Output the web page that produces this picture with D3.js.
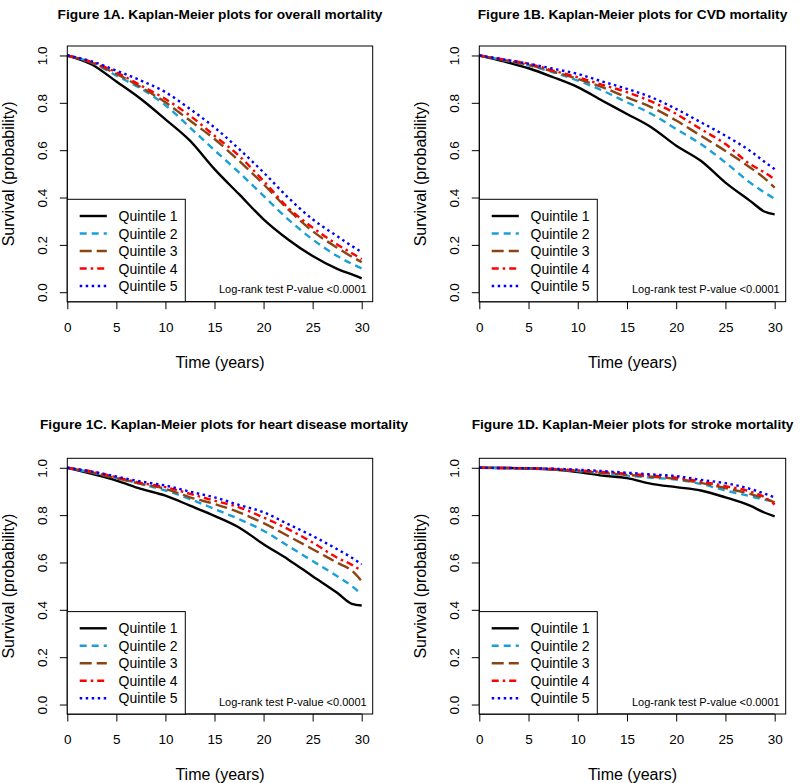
<!DOCTYPE html>
<html>
<head>
<meta charset="utf-8">
<script src="https://cdn.jsdelivr.net/npm/d3@7"></script>
<style>
  html, body { margin: 0; padding: 0; background: #fff; }
  svg { display: block; font-family: "Liberation Sans", Arial, sans-serif; }
</style>
</head>
<body>
<svg id="chart" width="800" height="783"></svg>
<script>
// ---------------- DATA ----------------
const timeYears = [0, 2.5, 5, 7.5, 10, 12.5, 15, 17.5, 20, 22.5, 25, 27.5, 29, 30];
const xTicks = [0, 5, 10, 15, 20, 25, 30];
const yTicks = [0, 0.2, 0.4, 0.6, 0.8, 1.0];
const quintileLabels = ["Quintile 1", "Quintile 2", "Quintile 3", "Quintile 4", "Quintile 5"];
const panelTitles = [
  "Figure 1A. Kaplan-Meier plots for overall mortality",
  "Figure 1B. Kaplan-Meier plots for CVD mortality",
  "Figure 1C. Kaplan-Meier plots for heart disease mortality",
  "Figure 1D. Kaplan-Meier plots for stroke mortality"
];
const pValueText = "Log-rank test P-value <0.0001";

const overallSurv = [
  [1, 0.962, 0.89, 0.816, 0.73, 0.64, 0.52, 0.414, 0.308, 0.223, 0.153, 0.099, 0.075, 0.059],
  [1, 0.970, 0.915, 0.86, 0.79, 0.696, 0.60, 0.506, 0.407, 0.308, 0.223, 0.153, 0.12, 0.10],
  [1, 0.969, 0.922, 0.866, 0.802, 0.725, 0.647, 0.555, 0.456, 0.35, 0.258, 0.188, 0.15, 0.127],
  [1, 0.972, 0.929, 0.873, 0.816, 0.746, 0.661, 0.576, 0.47, 0.357, 0.273, 0.202, 0.165, 0.14],
  [1, 0.975, 0.936, 0.894, 0.845, 0.774, 0.696, 0.605, 0.506, 0.40, 0.308, 0.237, 0.195, 0.17]
];
const cvdSurv = [
  [1, 0.975, 0.946, 0.908, 0.866, 0.809, 0.753, 0.696, 0.619, 0.555, 0.463, 0.386, 0.34, 0.329],
  [1, 0.980, 0.958, 0.929, 0.894, 0.852, 0.802, 0.753, 0.689, 0.626, 0.548, 0.463, 0.42, 0.395],
  [1, 0.980, 0.960, 0.932, 0.901, 0.866, 0.823, 0.781, 0.725, 0.661, 0.597, 0.527, 0.48, 0.442],
  [1, 0.983, 0.965, 0.936, 0.908, 0.876, 0.845, 0.805, 0.753, 0.689, 0.626, 0.541, 0.505, 0.477],
  [1, 0.983, 0.965, 0.944, 0.922, 0.89, 0.859, 0.823, 0.774, 0.718, 0.661, 0.597, 0.55, 0.52]
];
const heartSurv = [
  [1, 0.974, 0.946, 0.911, 0.882, 0.84, 0.797, 0.748, 0.677, 0.613, 0.542, 0.472, 0.425, 0.418],
  [1, 0.980, 0.956, 0.932, 0.904, 0.868, 0.826, 0.783, 0.734, 0.67, 0.606, 0.542, 0.50, 0.465],
  [1, 0.980, 0.956, 0.932, 0.911, 0.875, 0.847, 0.812, 0.766, 0.712, 0.656, 0.599, 0.565, 0.521],
  [1, 0.984, 0.960, 0.936, 0.918, 0.89, 0.861, 0.833, 0.79, 0.741, 0.684, 0.62, 0.59, 0.564],
  [1, 0.984, 0.963, 0.942, 0.925, 0.899, 0.875, 0.843, 0.812, 0.762, 0.712, 0.656, 0.62, 0.592]
];
const strokeSurv = [
  [1, 0.999, 0.997, 0.992, 0.982, 0.967, 0.956, 0.932, 0.918, 0.904, 0.875, 0.84, 0.81, 0.795],
  [1, 0.999, 0.997, 0.994, 0.986, 0.977, 0.967, 0.958, 0.95, 0.932, 0.904, 0.88, 0.865, 0.858],
  [1, 0.999, 0.997, 0.994, 0.987, 0.978, 0.97, 0.962, 0.953, 0.936, 0.914, 0.89, 0.87, 0.854],
  [1, 0.999, 0.998, 0.995, 0.989, 0.982, 0.975, 0.967, 0.958, 0.942, 0.922, 0.90, 0.875, 0.845],
  [1, 0.999, 0.998, 0.996, 0.992, 0.986, 0.979, 0.972, 0.965, 0.949, 0.935, 0.911, 0.89, 0.875]
];

// ---------------- STYLE ----------------
const lineColors = ["#000000", "#1a9fd8", "#8b4513", "#ff0000", "#0000ff"];
const lineDashes = [null, "7,5", "12,5", "7,4,2.5,4", "2.5,3.5"];

const panels = [
  { data: overallSurv, title: panelTitles[0], left: 67.3, right: 372.7, top: 46, bottom: 301.7, titleY: 18.5, titleX: null, clipRight: 408 },
  { data: cvdSurv, title: panelTitles[1], left: 479.3, right: 785.7, top: 46, bottom: 301.7, titleY: 18.5, titleX: null, clipRight: 800 },
  { data: heartSurv, title: panelTitles[2], left: 67.3, right: 372.7, top: 458.3, bottom: 714, titleY: 428.5, titleX: 40, clipRight: 408 },
  { data: strokeSurv, title: panelTitles[3], left: 479.3, right: 785.7, top: 458.3, bottom: 714, titleY: 428.5, titleX: null, clipRight: 800 }
];

const svg = d3.select("#chart");
const defs = svg.append("defs");

panels.forEach((p, pi) => {
  const x = d3.scaleLinear().domain([0, 31.12]).range([p.left, p.right]);
  const y = d3.scaleLinear().domain([-0.04, 1.04]).range([p.bottom, p.top]);
  const g = svg.append("g");

  // title (clipped to panel region)
  const clipId = "clip" + pi;
  defs.append("clipPath").attr("id", clipId)
    .append("rect").attr("x", p.left - 80).attr("y", p.titleY - 20)
    .attr("width", p.clipRight - (p.left - 80)).attr("height", 30);
  const t = g.append("text")
    .attr("clip-path", `url(#${clipId})`)
    .attr("y", p.titleY)
    .attr("font-size", 13.7).attr("font-weight", "bold").attr("fill", "#000")
    .text(p.title);
  if (p.titleX !== null) t.attr("x", p.titleX).attr("text-anchor", "start");
  else t.attr("x", (p.left + p.right) / 2).attr("text-anchor", "middle");

  // curves
  const line = d3.line()
    .x((d, i) => x(timeYears[i]))
    .y(d => y(d))
    .curve(d3.curveMonotoneX);
  p.data.forEach((series, qi) => {
    g.append("path")
      .attr("d", line(series))
      .attr("fill", "none")
      .attr("stroke", lineColors[qi])
      .attr("stroke-width", 2.4)
      .attr("stroke-dasharray", lineDashes[qi])
      .attr("stroke-linecap", "butt");
  });

  // x axis
  const xAxis = d3.axisBottom(x).tickValues(xTicks).tickSize(7.5).tickPadding(13).tickFormat(d3.format("d"));
  const gx = g.append("g").attr("transform", `translate(0,${p.bottom})`).call(xAxis);
  gx.select(".domain").attr("d", `M${x(0)},0H${x(30)}`).attr("stroke", "#000");
  gx.selectAll(".tick line").attr("stroke", "#000");
  gx.selectAll(".tick text").attr("font-size", 13.5).attr("fill", "#000")
    .attr("font-family", '"Liberation Sans", Arial, sans-serif');

  // y axis
  const yAxis = d3.axisLeft(y).tickValues(yTicks).tickSize(7.5).tickFormat(d3.format(".1f"));
  const gy = g.append("g").attr("transform", `translate(${p.left},0)`).call(yAxis);
  gy.select(".domain").attr("d", `M0,${y(0)}V${y(1)}`).attr("stroke", "#000");
  gy.selectAll(".tick line").attr("stroke", "#000");
  gy.selectAll(".tick text")
    .attr("font-size", 13.5).attr("fill", "#000")
    .attr("font-family", '"Liberation Sans", Arial, sans-serif')
    .attr("x", null).attr("dy", null)
    .attr("text-anchor", "middle")
    .attr("transform", "translate(-20,0) rotate(-90)");

  // frame
  g.append("rect").attr("x", p.left).attr("y", p.top)
    .attr("width", p.right - p.left).attr("height", p.bottom - p.top)
    .attr("fill", "none").attr("stroke", "#000").attr("stroke-width", 1);

  // axis labels
  g.append("text").attr("x", (p.left + p.right) / 2).attr("y", p.bottom + 66)
    .attr("text-anchor", "middle").attr("font-size", 16).attr("fill", "#000")
    .text("Time (years)");
  g.append("text")
    .attr("transform", `translate(${p.left - 53},${(p.top + p.bottom) / 2}) rotate(-90)`)
    .attr("text-anchor", "middle").attr("font-size", 16).attr("fill", "#000")
    .text("Survival (probability)");

  // legend
  const lgW = 118, lgTop = p.bottom - 102.4;
  const lg = g.append("g");
  lg.append("rect").attr("x", p.left).attr("y", lgTop)
    .attr("width", lgW).attr("height", p.bottom - lgTop)
    .attr("fill", "#fff").attr("stroke", "#000").attr("stroke-width", 1);
  quintileLabels.forEach((lab, qi) => {
    const cy = p.bottom - 15.7 - (4 - qi) * 17.5;
    lg.append("line")
      .attr("x1", p.left + 12.4).attr("x2", p.left + 39.5)
      .attr("y1", cy).attr("y2", cy)
      .attr("stroke", lineColors[qi]).attr("stroke-width", 2.4)
      .attr("stroke-dasharray", lineDashes[qi]);
    lg.append("text").attr("x", p.left + 51.2).attr("y", cy + 5)
      .attr("font-size", 14).attr("fill", "#000").text(lab);
  });

  // p-value
  g.append("text").attr("x", p.right - 6).attr("y", p.bottom - 8.3)
    .attr("text-anchor", "end").attr("font-size", 11).attr("fill", "#000")
    .text(pValueText);
});
</script>
</body>
</html>
